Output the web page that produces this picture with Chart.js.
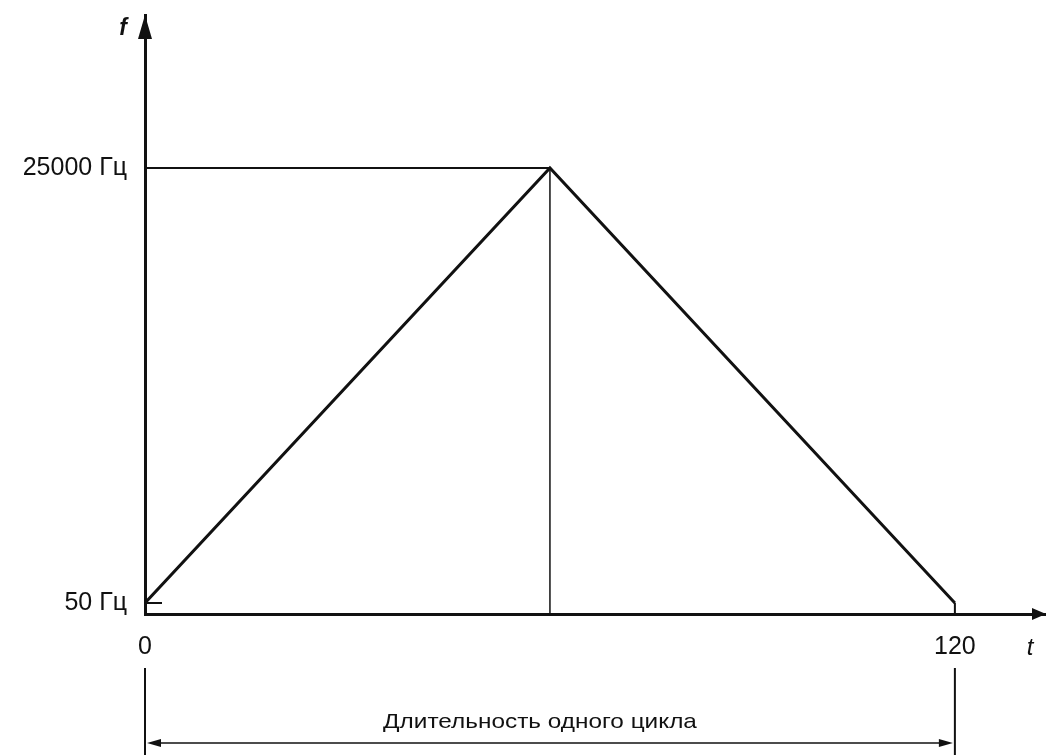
<!DOCTYPE html>
<html>
<head>
<meta charset="utf-8">
<script src="https://cdn.jsdelivr.net/npm/chart.js@4/dist/chart.umd.min.js"></script>
<style>
  html, body { margin: 0; padding: 0; background: #fff; }
  #wrap { width: 1046px; height: 755px; }
</style>
</head>
<body>
<div id="wrap"><canvas id="cycleChart" width="1046" height="755"></canvas></div>
<script>
// ---- data ----
const times = [0, 60, 120];           // t
const freqs = [50, 25000, 50];        // f, Гц
const xTicks = [0, 120];
const yTicks = [50, 25000];
const yUnit = "Гц";
const cycleLabel = "Длительность одного цикла";

const FONT = "'Liberation Sans', Arial, sans-serif";
const INK = "#111";

// guides, arrows and labels that the axes do not draw themselves
const extras = {
  id: "extras",
  beforeDatasetsDraw(chart) {
    const { ctx, scales: { x, y } } = chart;
    const peak = freqs.indexOf(Math.max(...freqs));
    const px = x.getPixelForValue(times[peak]);
    const py = y.getPixelForValue(freqs[peak]);
    ctx.save();
    ctx.strokeStyle = INK;
    ctx.lineWidth = 2;
    ctx.beginPath();
    ctx.moveTo(x.left, py);
    ctx.lineTo(px, py);
    ctx.stroke();
    ctx.lineWidth = 1.5;
    ctx.beginPath();
    ctx.moveTo(px, py);
    ctx.lineTo(px, y.bottom);
    ctx.stroke();
    ctx.restore();
  },
  afterDraw(chart) {
    const { ctx, chartArea: a, scales: { x, y } } = chart;
    ctx.save();
    ctx.fillStyle = INK;
    ctx.strokeStyle = INK;

    // axis arrowheads
    ctx.beginPath();
    ctx.moveTo(a.left, a.top);
    ctx.lineTo(a.left - 7, a.top + 24);
    ctx.lineTo(a.left + 7, a.top + 24);
    ctx.closePath();
    ctx.fill();
    ctx.beginPath();
    ctx.moveTo(a.right, a.bottom);
    ctx.lineTo(a.right - 14, a.bottom - 6);
    ctx.lineTo(a.right - 14, a.bottom + 6);
    ctx.closePath();
    ctx.fill();

    // small marks at the 50 Гц level and at t = 120
    const y50 = y.getPixelForValue(yTicks[0]);
    const xEnd = x.getPixelForValue(xTicks[1]);
    ctx.lineWidth = 2;
    ctx.beginPath();
    ctx.moveTo(a.left, y50);
    ctx.lineTo(a.left + 17, y50);
    ctx.moveTo(xEnd, y50);
    ctx.lineTo(xEnd, a.bottom);
    ctx.stroke();

    // axis names
    ctx.font = "italic bold 23px " + FONT;
    ctx.textAlign = "center";
    ctx.textBaseline = "alphabetic";
    ctx.fillText("f", a.left - 22, a.top + 20);
    ctx.font = "italic 24px " + FONT;
    ctx.fillText("t", 1030, 655);

    // cycle length
    const x0 = x.getPixelForValue(xTicks[0]);
    ctx.lineWidth = 2;
    ctx.beginPath();
    ctx.moveTo(x0, 668);
    ctx.lineTo(x0, 755);
    ctx.moveTo(xEnd, 668);
    ctx.lineTo(xEnd, 755);
    ctx.stroke();
    const ay = 743;
    ctx.lineWidth = 1.5;
    ctx.beginPath();
    ctx.moveTo(x0 + 10, ay);
    ctx.lineTo(xEnd - 10, ay);
    ctx.stroke();
    ctx.beginPath();
    ctx.moveTo(x0 + 2, ay);
    ctx.lineTo(x0 + 16, ay - 4);
    ctx.lineTo(x0 + 16, ay + 4);
    ctx.closePath();
    ctx.fill();
    ctx.beginPath();
    ctx.moveTo(xEnd - 2, ay);
    ctx.lineTo(xEnd - 16, ay - 4);
    ctx.lineTo(xEnd - 16, ay + 4);
    ctx.closePath();
    ctx.fill();

    // the source lettering is a little wider than Arial
    ctx.translate(540, 728);
    ctx.scale(1.16, 1);
    ctx.font = "21px " + FONT;
    ctx.fillText(cycleLabel, 0, 0);
    ctx.restore();
  }
};

new Chart(document.getElementById("cycleChart"), {
  type: "line",
  data: {
    datasets: [{
      data: times.map((t, i) => ({ x: t, y: freqs[i] })),
      borderColor: INK,
      borderWidth: 3,
      pointRadius: 0,
      tension: 0,
      fill: false
    }]
  },
  options: {
    responsive: false,
    animation: false,
    layout: { padding: { top: 15, right: 0, left: 0, bottom: 0 } },
    plugins: { legend: { display: false }, tooltip: { enabled: false } },
    scales: {
      x: {
        type: "linear",
        min: 0,
        max: 133.5,
        afterBuildTicks: s => { s.ticks = xTicks.map(v => ({ value: v })); },
        afterFit: s => { s.height = 141; s.paddingLeft = 0; s.paddingRight = 0; },
        grid: { display: false, drawTicks: false },
        border: { display: true, color: INK, width: 3 },
        ticks: {
          color: INK,
          padding: 18,
          font: { family: FONT, size: 25 },
          maxRotation: 0,
          autoSkip: false
        }
      },
      y: {
        type: "linear",
        min: -581,
        max: 33775,
        afterBuildTicks: s => { s.ticks = yTicks.map(v => ({ value: v })); },
        afterFit: s => { s.width = 145; s.paddingTop = 0; s.paddingBottom = 0; },
        grid: { display: false, drawTicks: false },
        border: { display: true, color: INK, width: 3 },
        ticks: {
          color: INK,
          padding: 18,
          font: { family: FONT, size: 25 },
          autoSkip: false,
          callback: v => v + " " + yUnit
        }
      }
    }
  },
  plugins: [extras]
});
</script>
</body>
</html>
